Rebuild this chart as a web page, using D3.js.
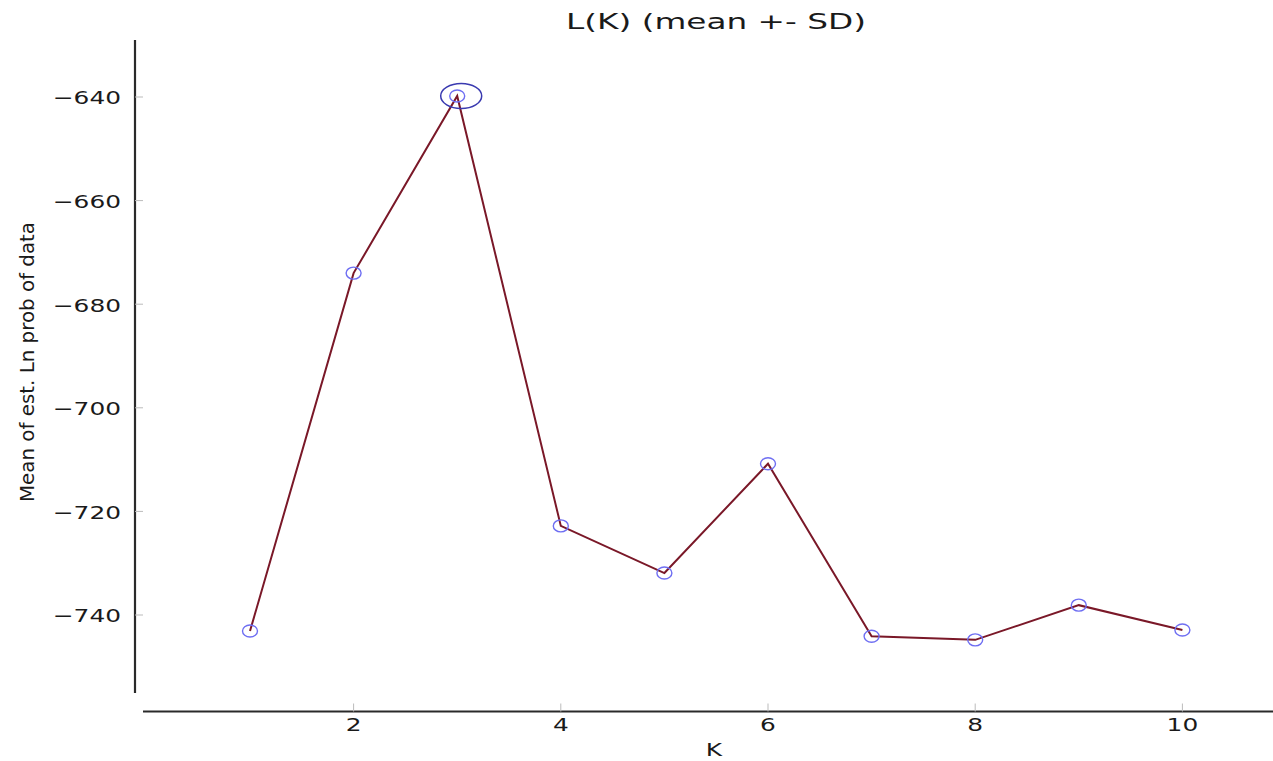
<!DOCTYPE html>
<html><head><meta charset="utf-8">
<script src="https://cdn.jsdelivr.net/npm/d3@7"></script>
<style>body{margin:0;background:#fff;} svg{display:block;}</style>
</head><body>
<script>
const ks = [1,2,3,4,5,6,7,8,9,10];
const means = [-743.1,-674.0,-639.8,-722.8,-731.9,-710.8,-744.1,-744.8,-738.1,-742.9];
const xTicks = [2,4,6,8,10];
const yTicks = [-640,-660,-680,-700,-720,-740];
const title = "L(K) (mean +- SD)";
const xLabel = "K";
const yLabel = "Mean of est. Ln prob of data";

const W = 1273, H = 761;
const SX = 1.38; // horizontal stretch of text in the reference
const svg = d3.select("body").append("svg").attr("width", W).attr("height", H);
const x = d3.scaleLinear().domain([0, 11]).range([146.4, 1286]);
const y = d3.scaleLinear().domain([-640, -740]).range([97, 615]);
const FONT = "DejaVu Sans";

function stretchedText(px, py, str, size, anchor) {
  return svg.append("text")
    .attr("transform", `translate(${px},${py}) scale(${SX},1)`)
    .attr("dy", "0.35em").attr("text-anchor", anchor)
    .attr("font-family", FONT).attr("font-size", size).attr("fill", "#1a1a1a").text(str);
}

// y axis
const yAxisX = 135;
svg.append("line").attr("x1", yAxisX).attr("x2", yAxisX).attr("y1", 40).attr("y2", 693)
  .attr("stroke", "#2a2a2a").attr("stroke-width", 2.2);
const fmt = d => "\u2212" + Math.abs(d);
yTicks.forEach(t => {
  svg.append("line").attr("x1", yAxisX).attr("x2", yAxisX + 8).attr("y1", y(t)).attr("y2", y(t))
    .attr("stroke", "#bbb").attr("stroke-width", 1);
  stretchedText(121, y(t) + 1, fmt(t), 18, "end");
});

// x axis
const xAxisY = 711.5;
svg.append("line").attr("x1", 143).attr("x2", W).attr("y1", xAxisY).attr("y2", xAxisY)
  .attr("stroke", "#2a2a2a").attr("stroke-width", 2.2);
xTicks.forEach(t => {
  svg.append("line").attr("x1", x(t)).attr("x2", x(t)).attr("y1", xAxisY - 8).attr("y2", xAxisY)
    .attr("stroke", "#bbb").attr("stroke-width", 1);
  stretchedText(x(t), 725, t, 18, "middle");
});

stretchedText(714, 750, xLabel, 18, "middle");

// y label (rotated)
svg.append("text")
  .attr("transform", `translate(27,362) scale(1.15,1) rotate(-90)`)
  .attr("text-anchor", "middle").attr("dy", "0.35em")
  .attr("font-family", FONT).attr("font-size", 17).attr("fill", "#1a1a1a")
  .attr("textLength", 280).attr("lengthAdjust", "spacingAndGlyphs").text(yLabel);

// title
svg.append("text").attr("x", 716).attr("y", 21).attr("dy", "0.35em").attr("text-anchor", "middle")
  .attr("font-family", FONT).attr("font-size", 22).attr("fill", "#1a1a1a")
  .attr("textLength", 300).attr("lengthAdjust", "spacingAndGlyphs").text(title);

// line
const line = d3.line().x((d, i) => x(ks[i])).y(d => y(d));
svg.append("path").datum(means).attr("d", line).attr("fill", "none")
  .attr("stroke", "#7a1828").attr("stroke-width", 2);

// markers
svg.selectAll("ellipse.pt").data(means).enter().append("ellipse").attr("class", "pt")
  .attr("cx", (d, i) => x(ks[i])).attr("cy", d => y(d)).attr("rx", 7.5).attr("ry", 6)
  .attr("fill", "none").attr("stroke", "#6e6ef2").attr("stroke-width", 1.4);

// larger SD ellipse at max
const iMax = d3.maxIndex(means);
svg.append("ellipse").attr("cx", x(ks[iMax]) + 4).attr("cy", y(means[iMax])).attr("rx", 20.5).attr("ry", 12.5)
  .attr("fill", "none").attr("stroke", "#3a3ab0").attr("stroke-width", 1.5);
</script>
</body></html>
